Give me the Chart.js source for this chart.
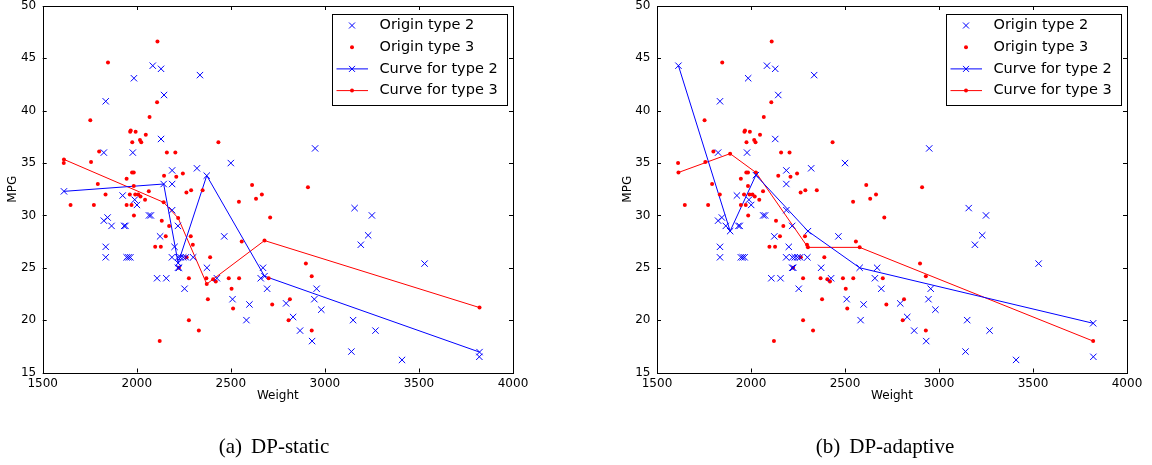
<!DOCTYPE html>
<html>
<head>
<meta charset="utf-8">
<script src="https://cdn.jsdelivr.net/npm/chart.js@4"></script>
<style>
    body { margin: 0; background: #fff; }
    #page { position: relative; width: 1152px; height: 465px; }
    .panel { position: absolute; top: 0; width: 576px; height: 465px; }
    .caption {
        position: absolute; top: 434px; transform: translateX(-50%);
        font-family: "Liberation Serif", serif; font-size: 21px; color: #000; white-space: nowrap;
    }
    .caption span { margin-right: 9px; }
</style>
</head>
<body>
<div id="page">
    <div class="panel" style="left:0">
        <canvas id="chartStatic" width="576" height="465"></canvas>
        <div class="caption" style="left:274px"><span>(a)</span>DP-static</div>
    </div>
    <div class="panel" style="left:576px">
        <canvas id="chartAdaptive" width="576" height="465"></canvas>
        <div class="caption" style="left:309px"><span>(b)</span>DP-adaptive</div>
    </div>
</div>
<script>
// --- Dados ---
const WEIGHT_TICKS = [1500, 2000, 2500, 3000, 3500, 4000];
const MPG_TICKS = [15, 20, 25, 30, 35, 40, 45, 50];

// Origin type 2 (cruzes azuis)
const origin2Weight = [2085, 2129, 2336, 1985, 2145, 1835, 2129, 2948, 1825, 1979,
    2500, 2320, 2188, 2188, 1925, 1989, 2001, 2065, 2075, 2188,
    1825, 1845, 1866, 1933, 1940, 2219, 2124, 2465, 2201, 1835,
    1835, 1946, 1956, 1966, 2187, 2220, 2233, 2247, 2261, 2300,
    2219, 2225, 2373, 2671, 2108, 2157, 2426, 2659, 2254, 2693,
    2956, 2509, 2944, 2599, 2794, 2981, 2831, 2583, 3150, 2868,
    3269, 2932, 3141, 3410, 3821, 3158, 3250, 3230, 3191, 3530];
const origin2Mpg = [44.3, 44.0, 43.4, 43.1, 41.5, 40.9, 37.3, 36.4, 36.0, 36.0,
    35.0, 34.5, 34.3, 33.0, 31.9, 31.5, 31.0, 30.0, 30.0, 30.5,
    29.5, 29.8, 29.0, 29.0, 29.0, 29.0, 28.0, 28.0, 27.0, 27.0,
    26.0, 26.0, 26.0, 26.0, 26.0, 26.0, 26.0, 26.0, 26.0, 26.0,
    25.0, 25.0, 25.0, 25.0, 24.0, 24.0, 24.0, 24.0, 23.0, 23.0,
    23.0, 22.0, 22.0, 21.5, 21.6, 21.0, 20.3, 20.0, 20.0, 19.0,
    19.0, 18.0, 17.0, 16.2, 16.5, 30.7, 30.0, 28.1, 27.2, 25.4];

// Origin type 3 (pontos vermelhos)
const origin3Weight = [2110, 1847, 2108, 2068, 1753, 1965, 1968, 1994, 2048, 2017,
    2024, 1976, 2434, 1800, 2160, 2205, 1757, 1612, 1975, 1984,
    2145, 2210, 2245, 1946, 1793, 2613, 2064, 2264, 2289, 2350,
    1984, 2665, 2634, 2910, 1834, 1963, 1992, 2008, 2020, 2044,
    1648, 1772, 1946, 1972, 2543, 1985, 2133, 2172, 2154, 2287,
    2709, 2558, 2098, 2128, 2298, 2265, 2390, 2224, 2899, 2930,
    2277, 2370, 2406, 2420, 2489, 2544, 2701, 2504, 2378, 2814,
    2512, 2720, 2277, 2807, 2330, 2930, 2122];
const origin3Mpg = [46.6, 44.6, 40.8, 39.4, 39.1, 38.0, 38.1, 38.0, 37.7, 37.2,
    37.0, 37.0, 37.0, 36.1, 36.0, 36.0, 35.1, 35.0, 34.1, 34.1,
    33.8, 33.7, 34.0, 33.5, 33.0, 32.9, 32.3, 32.2, 32.4, 32.4,
    32.8, 32.0, 31.6, 32.7, 32.0, 32.0, 32.0, 32.0, 31.8, 31.5,
    31.0, 31.0, 31.0, 31.0, 31.3, 30.0, 29.5, 29.0, 28.0, 28.0,
    29.8, 27.5, 27.0, 27.0, 27.2, 26.0, 26.0, 25.0, 25.4, 24.2,
    24.0, 24.0, 23.9, 23.7, 24.0, 24.0, 24.0, 23.0, 22.0, 22.0,
    21.1, 21.5, 20.0, 20.0, 19.0, 19.0, 18.0];

// Curvas (a) DP-static
const staticKnots = [1613, 2143, 2220, 2372, 2679, 3822];
const staticCurve2 = [32.3, 33.0, 25.45, 33.8, 24.2, 16.95];
const staticCurve3 = [35.35, 31.25, 29.75, 23.45, 27.6, 21.2];

// Curvas (b) DP-adaptive
const adaptiveKnots = [1614, 1889, 2026, 2303, 2578, 3820];
const adaptiveCurve2 = [44.3, 28.5, 33.85, 28.5, 25.0, 19.7];
const adaptiveCurve3 = [34.1, 35.9, 34.1, 26.95, 26.95, 18.0];

const BLUE = '#0000ff';
const RED = '#ff0000';
const FONT = '"DejaVu Sans", sans-serif';

function toPoints(xs, ys) {
    return xs.map((x, i) => ({ x: x, y: ys[i] }));
}

// Moldura e ticks para dentro nos quatro lados (estilo matplotlib antigo)
const frameTicks = {
    id: 'frameTicks',
    afterDatasetsDraw(chart) {
        const { ctx, chartArea: a, scales: { x, y } } = chart;
        ctx.save();
        ctx.strokeStyle = '#000';
        ctx.lineWidth = 1;
        ctx.beginPath();
        WEIGHT_TICKS.forEach(v => {
            const px = Math.round(x.getPixelForValue(v)) + 0.5;
            ctx.moveTo(px, a.top); ctx.lineTo(px, a.top + 4);
            ctx.moveTo(px, a.bottom); ctx.lineTo(px, a.bottom - 4);
        });
        MPG_TICKS.forEach(v => {
            const py = Math.round(y.getPixelForValue(v)) + 0.5;
            ctx.moveTo(a.left, py); ctx.lineTo(a.left + 4, py);
            ctx.moveTo(a.right, py); ctx.lineTo(a.right - 4, py);
        });
        ctx.stroke();
        ctx.strokeRect(Math.round(a.left) + 0.5, Math.round(a.top) + 0.5,
            Math.round(a.right - a.left), Math.round(a.bottom - a.top));
        ctx.restore();
    }
};

// Legenda dentro do gráfico, canto superior direito
const boxLegend = {
    id: 'boxLegend',
    afterDraw(chart) {
        const { ctx, chartArea: a } = chart;
        const w = 175, h = 91;
        const left = a.right - 6.5 - w, top = a.top + 7.5;
        ctx.save();
        ctx.fillStyle = '#fff';
        ctx.fillRect(left, top, w, h);
        ctx.strokeStyle = '#000';
        ctx.lineWidth = 1;
        ctx.strokeRect(Math.round(left) + 0.5, Math.round(top) + 0.5, w, h);
        ctx.font = '14.5px ' + FONT;
        ctx.textBaseline = 'middle';
        chart.data.datasets.forEach((ds, i) => {
            const cy = top + 12 + i * 21.7;
            const mx = left + 20.5;
            if (ds.showLine) {
                ctx.strokeStyle = ds.borderColor;
                ctx.beginPath();
                ctx.moveTo(left + 5, cy); ctx.lineTo(left + 36.5, cy);
                ctx.stroke();
            }
            if (ds.pointStyle === 'crossRot') {
                ctx.strokeStyle = ds.borderColor;
                ctx.beginPath();
                ctx.moveTo(mx - 3, cy - 3); ctx.lineTo(mx + 3, cy + 3);
                ctx.moveTo(mx - 3, cy + 3); ctx.lineTo(mx + 3, cy - 3);
                ctx.stroke();
            } else {
                ctx.fillStyle = ds.pointBackgroundColor;
                ctx.beginPath();
                ctx.arc(mx, cy, 2, 0, Math.PI * 2);
                ctx.fill();
            }
            ctx.fillStyle = '#000';
            ctx.fillText(ds.label, left + 48, cy);
        });
        ctx.restore();
    }
};

function buildChart(canvasId, knots, curve2, curve3, padLeft, padRight) {
    const ctx = document.getElementById(canvasId).getContext('2d');
    return new Chart(ctx, {
        type: 'scatter',
        data: {
            datasets: [{
                label: 'Origin type 2',
                data: toPoints(origin2Weight, origin2Mpg),
                pointStyle: 'crossRot',
                pointRadius: 4.5,
                pointBorderWidth: 1,
                borderColor: BLUE,
                pointBorderColor: BLUE,
                showLine: false
            }, {
                label: 'Origin type 3',
                data: toPoints(origin3Weight, origin3Mpg),
                pointStyle: 'circle',
                pointRadius: 2,
                pointBorderWidth: 0,
                borderColor: RED,
                pointBackgroundColor: RED,
                showLine: false
            }, {
                label: 'Curve for type 2',
                data: toPoints(knots, curve2),
                pointStyle: 'crossRot',
                pointRadius: 4.5,
                pointBorderWidth: 1,
                borderColor: BLUE,
                pointBorderColor: BLUE,
                borderWidth: 1,
                showLine: true
            }, {
                label: 'Curve for type 3',
                data: toPoints(knots, curve3),
                pointStyle: 'circle',
                pointRadius: 2,
                pointBorderWidth: 0,
                borderColor: RED,
                pointBackgroundColor: RED,
                borderWidth: 1,
                showLine: true
            }]
        },
        options: {
            responsive: false,
            animation: false,
            events: [],
            layout: { padding: { left: padLeft, right: padRight, top: 6, bottom: 59.8 } },
            scales: {
                x: {
                    type: 'linear',
                    min: 1500, max: 4000,
                    afterBuildTicks: (s) => { s.ticks = WEIGHT_TICKS.map(v => ({ value: v })); },
                    afterFit: (s) => { s.height = 32.7; s.paddingLeft = 0; s.paddingRight = 0; },
                    grid: { display: false, drawTicks: false },
                    border: { display: false },
                    ticks: { color: '#000', padding: 4, maxRotation: 0, font: { family: FONT, size: 12 }, callback: v => String(v) },
                    title: { display: true, text: 'Weight', color: '#000', padding: { top: 0, bottom: 2 }, font: { family: FONT, size: 12 } }
                },
                y: {
                    type: 'linear',
                    min: 15, max: 50,
                    afterBuildTicks: (s) => { s.ticks = MPG_TICKS.map(v => ({ value: v })); },
                    afterFit: (s) => { s.width = 42.7; s.paddingTop = 0; s.paddingBottom = 0; },
                    grid: { display: false, drawTicks: false },
                    border: { display: false },
                    ticks: { color: '#000', padding: 6.5, font: { family: FONT, size: 12 }, callback: v => String(v) },
                    title: { display: true, text: 'MPG', color: '#000', padding: { top: 6, bottom: 0 }, font: { family: FONT, size: 12 } }
                }
            },
            plugins: {
                legend: { display: false },
                tooltip: { enabled: false }
            }
        },
        plugins: [frameTicks, boxLegend]
    });
}

buildChart('chartStatic', staticKnots, staticCurve2, staticCurve3, 0, 63);
buildChart('chartAdaptive', adaptiveKnots, adaptiveCurve2, adaptiveCurve3, 38.3, 25);
</script>
</body>
</html>
